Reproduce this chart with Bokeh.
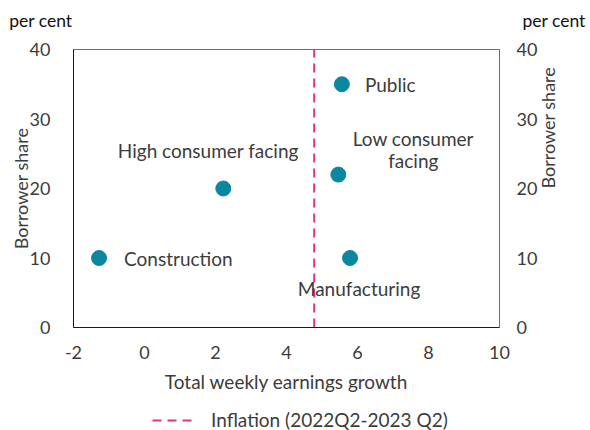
import math
from bokeh.plotting import figure
from bokeh.layouts import column
from bokeh.models import (Range1d, LinearAxis, FixedTicker, Label, Legend, LegendItem)
from bokeh.embed import file_html
from bokeh.resources import INLINE

# ---- data ----
sectors = ["Construction", "High consumer facing", "Public", "Low consumer\nfacing", "Manufacturing"]
earnings_growth = [-1.28, 2.22, 5.56, 5.46, 5.79]
borrower_share = [10, 20, 35, 22, 10]
inflation = [4.78]
inflation_label = "Inflation (2022Q2-2023 Q2)"
x_ticks = [-2, 0, 2, 4, 6, 8, 10]
y_ticks = [0, 10, 20, 30, 40]
x_title = "Total weekly earnings growth"
y_title = "Borrower share"
unit = "per cent"

# ---- styles / label placement ----
FONT = "Lato"
FS = "19px"
TICK_FS = "18px"
TXT = "#3c3c3c"
TEAL = "#0C87A1"
MAGENTA = "#E2338A"
DASH = "9 6"
label_place = {
    "Construction": dict(dx=25, dy=0, align="left"),
    "High consumer facing": dict(dx=-15, dy=38, align="center"),
    "Public": dict(dx=23, dy=0, align="left"),
    "Low consumer\nfacing": dict(dx=75, dy=25, align="center"),
    "Manufacturing": dict(dx=9, dy=-30, align="center"),
}

x0, x1 = x_ticks[0], x_ticks[-1]
y0, y1 = y_ticks[0], y_ticks[-1]

# ---- header with unit labels ----
header = figure(width=590, height=30, output_backend="svg", toolbar_location=None,
                x_axis_type=None, y_axis_type=None, min_border=0,
                x_range=Range1d(0, 1), y_range=Range1d(0, 1))
header.frame_align = False
header.outline_line_color = None
header.grid.visible = False
header.add_layout(Label(x=72, y=10, x_units="screen", y_units="screen", text=unit,
                        text_align="right", text_baseline="middle", text_font=FONT,
                        text_font_size="17.5px", text_color="#111111"))
header.add_layout(Label(x=522, y=10, x_units="screen", y_units="screen", text=unit,
                        text_align="left", text_baseline="middle", text_font=FONT,
                        text_font_size="17.5px", text_color="#111111"))

# ---- main chart ----
p = figure(frame_width=426, frame_height=278, output_backend="svg", toolbar_location=None,
           x_range=Range1d(x0, x1), y_range=Range1d(y0, y1),
           min_border_left=73, min_border_right=91, min_border_top=19, min_border_bottom=10)
p.frame_align = False
p.background_fill_color = "white"
p.border_fill_color = "white"
p.outline_line_color = "#6e6e6e"
p.outline_line_width = 1
p.xgrid.visible = False
p.ygrid.visible = False

def style_axis(ax, line_color):
    ax.major_tick_line_color = None
    ax.minor_tick_line_color = None
    ax.axis_line_color = line_color
    ax.major_label_text_font = FONT
    ax.major_label_text_font_size = TICK_FS
    ax.major_label_text_color = TXT
    ax.axis_label_text_font = FONT
    ax.axis_label_text_font_size = TICK_FS
    ax.axis_label_text_color = TXT
    ax.axis_label_text_font_style = "normal"

p.xaxis.ticker = FixedTicker(ticks=x_ticks)
p.xaxis.axis_label = x_title
p.xaxis.major_label_standoff = 12
p.xaxis.axis_label_standoff = 8
p.xaxis.major_label_overrides = {t: str(t) for t in x_ticks}
style_axis(p.xaxis[0], "#1a1a1a")
p.xaxis.axis_label_text_font_size = FS

p.yaxis.ticker = FixedTicker(ticks=y_ticks)
p.yaxis.axis_label = y_title
p.yaxis.major_label_standoff = 17
p.yaxis.axis_label_standoff = -5
style_axis(p.yaxis[0], "#1a1a1a")

ry = LinearAxis(ticker=FixedTicker(ticks=y_ticks), axis_label=y_title,
                major_label_standoff=11, axis_label_standoff=8)
style_axis(ry, "#6e6e6e")
ry.axis_label_orientation = math.pi / 2
p.add_layout(ry, "right")

# inflation line
p.segment(x0=inflation, y0=[y0], x1=inflation, y1=[y1],
          line_color=MAGENTA, line_width=2, line_dash=DASH)

# points
p.scatter(earnings_growth, borrower_share, size=15, fill_color=TEAL, line_color=TEAL)

for name, gx, sy in zip(sectors, earnings_growth, borrower_share):
    pl = label_place[name]
    p.add_layout(Label(x=gx, y=sy, x_offset=pl["dx"], y_offset=pl["dy"], text=name,
                       text_align=pl["align"], text_baseline="middle",
                       text_font=FONT, text_font_size=FS, text_color=TXT,
                       text_line_height=0.95))

# ---- footer with legend (its own copy of the inflation line, outside its visible range) ----
footer = figure(width=590, height=38, output_backend="svg", toolbar_location=None,
                x_axis_type=None, y_axis_type=None, min_border=0,
                x_range=Range1d(100, 101), y_range=Range1d(100, 101))
footer.frame_align = False
footer.outline_line_color = None
footer.grid.visible = False
leg_line = footer.segment(x0=inflation, y0=[y0], x1=inflation, y1=[y1],
                          line_color=MAGENTA, line_width=2, line_dash=DASH)
legend = Legend(items=[LegendItem(label=inflation_label, renderers=[leg_line])],
                orientation="horizontal", location=(150, 0),
                border_line_alpha=0, background_fill_alpha=0,
                label_text_font=FONT, label_text_font_size=FS, label_text_color=TXT,
                glyph_width=45, glyph_height=20, label_height=20,
                label_standoff=14, padding=2, margin=0)
footer.add_layout(legend, "center")

root = column(header, p, footer, spacing=0)
open("out.html", "w").write(file_html(root, INLINE))
